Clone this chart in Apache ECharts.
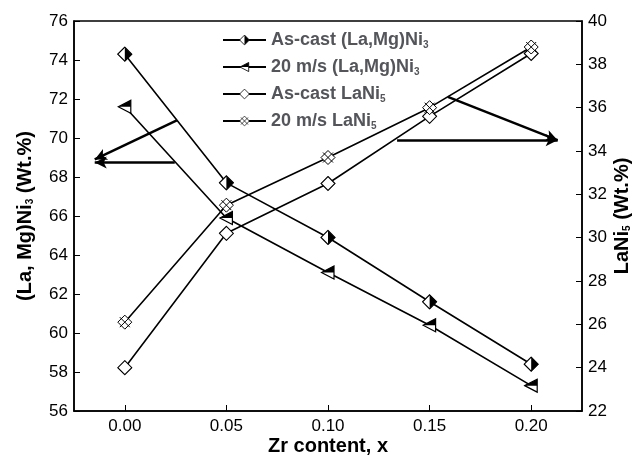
<!DOCTYPE html>
<html>
<head>
    <meta charset="utf-8">
    <title>Zr content vs phase abundance</title>
    <script src="https://cdn.jsdelivr.net/npm/echarts@6/dist/echarts.min.js"></script>
</head>
<body style="margin:0">
<div id="main" style="width:640px;height:459px"></div>
<script type="text/javascript">

    // data
    var zrContent = [0, 0.05, 0.10, 0.15, 0.20];
    var asCastLaMgNi3 = [74.3, 67.7, 64.9, 61.6, 58.4];
    var spun20LaMgNi3 = [71.6, 65.9, 63.1, 60.4, 57.3];
    var asCastLaNi5 = [24.0, 30.2, 32.5, 35.6, 38.5];
    var spun20LaNi5 = [26.1, 31.5, 33.7, 36.0, 38.8];
    var xTicks = [0, 0.05, 0.10, 0.15, 0.20];

    // marker shapes as small svg images (half filled ones need two colours)
    function svgSymbol(body) {
        var s = '<svg xmlns="http://www.w3.org/2000/svg" width="16" height="16" viewBox="0 0 16 16">' + body + '</svg>';
        return 'image://data:image/svg+xml;charset=utf-8,' + encodeURIComponent(s);
    }
    var halfDiamond = svgSymbol(
        '<polygon points="8,1 15,8 8,15 1,8" fill="#fff" stroke="#000" stroke-width="1.2"/>' +
        '<polygon points="8,1 15,8 8,15" fill="#000"/>');
    var halfTriangle = svgSymbol(
        '<polygon points="1.5,8 14,1.5 14,14.5" fill="#fff" stroke="#000" stroke-width="1.2"/>' +
        '<polygon points="1.5,8 14,1.5 14,8" fill="#000"/>');
    var openDiamond = svgSymbol(
        '<polygon points="8,1 15,8 8,15 1,8" fill="#fff" stroke="#000" stroke-width="1.1"/>');
    var crossDiamond = svgSymbol(
        '<polygon points="8,1 15,8 8,15 1,8" fill="#fff" stroke="#000" stroke-width="1"/>' +
        '<path d="M3,3 L13,13 M13,3 L3,13" stroke="#000" stroke-width="1"/>');

    function pairs(ys) {
        return zrContent.map(function (x, i) { return [x, ys[i]]; });
    }

    var font = 'Liberation Sans, Arial, sans-serif';
    var sub = { fontSize: 10, fontWeight: 'bold', fontFamily: font, verticalAlign: 'bottom', padding: [10, 0, 0, 0] };
    var big = { fontSize: 18, fontWeight: 'bold', fontFamily: font, lineHeight: 20 };
    var nameBig = { fontSize: 20, fontWeight: 'bold', fontFamily: font };

    var myChart = echarts.init(document.getElementById('main'));

    var names = ['As-cast (La,Mg)Ni3', '20 m/s (La,Mg)Ni3', 'As-cast LaNi5', '20 m/s LaNi5'];

    function lineSeries(name, ys, axis, sym) {
        return {
            name: name,
            type: 'line',
            yAxisIndex: axis,
            data: pairs(ys),
            symbol: sym,
            symbolSize: 16,
            showAllSymbol: true,
            lineStyle: { color: '#000', width: 1.6 },
            itemStyle: { color: '#000' },
            z: 3
        };
    }

    var arrowStyle = { color: '#000', width: 2.5, type: 'solid' };

    var s0 = lineSeries(names[0], asCastLaMgNi3, 0, halfDiamond);
    s0.markLine = {
        silent: true, animation: false,
        symbol: ['none', 'arrow'], symbolSize: [9, 12],
        label: { show: false }, lineStyle: arrowStyle,
        data: [
            [{ coord: [0.0256, 70.9] }, { coord: [-0.0148, 68.9] }],
            [{ coord: [0.0246, 68.75] }, { coord: [-0.0148, 68.75] }]
        ]
    };
    var s2 = lineSeries(names[2], asCastLaNi5, 1, openDiamond);
    s2.markLine = {
        silent: true, animation: false,
        symbol: ['none', 'arrow'], symbolSize: [9, 12],
        label: { show: false }, lineStyle: arrowStyle,
        data: [
            [{ coord: [0.159, 36.5] }, { coord: [0.213, 34.5] }],
            [{ coord: [0.134, 34.5] }, { coord: [0.213, 34.5] }]
        ]
    };

    var tickFont = { fontSize: 17, fontFamily: font, color: '#000' };

    myChart.setOption({
        animation: false,
        backgroundColor: '#fff',
        grid: {
            left: 74, right: 58, top: 21, bottom: 48,
            outerBoundsMode: 'none', containLabel: false,
            show: true, borderColor: '#000', borderWidth: 1.5
        },
        legend: {
            orient: 'vertical',
            left: 217, top: 26,
            itemWidth: 43, itemHeight: 14, itemGap: 8,
            data: names,
            formatter: function (n) {
                var m = n.match(/^(.*Ni)(\d)$/);
                return '{b|' + m[1] + '}{s|' + m[2] + '}';
            },
            textStyle: { rich: { b: big, s: sub } }
        },
        xAxis: {
            type: 'value',
            min: -0.025, max: 0.225,
            name: 'Zr content, x',
            nameLocation: 'middle', nameGap: 25, nameMoveOverlap: false,
            nameTextStyle: nameBig,
            axisLine: { onZero: false, lineStyle: { color: '#000', width: 1.5 } },
            axisTick: { inside: true, length: 6, customValues: xTicks, lineStyle: { color: '#000' } },
            axisLabel: Object.assign({
                customValues: xTicks, margin: 7,
                formatter: function (v) { return v.toFixed(2); }
            }, tickFont),
            splitLine: { show: false }
        },
        yAxis: [{
            type: 'value', min: 56, max: 76, interval: 2,
            name: '{b|(La, Mg)Ni}{s|3}{b| (Wt.%)}',
            nameLocation: 'middle', nameGap: 39, nameRotate: 90,
            nameTextStyle: { rich: { b: nameBig, s: sub } },
            axisLine: { show: true, onZero: false, lineStyle: { color: '#000', width: 1.5 } },
            axisTick: { inside: true, length: 6, lineStyle: { color: '#000' } },
            axisLabel: Object.assign({ margin: 6 }, tickFont),
            splitLine: { show: false }
        }, {
            type: 'value', min: 22, max: 40, interval: 2,
            name: '{b|LaNi}{s|5}{b| (Wt.%)}',
            nameLocation: 'middle', nameGap: 30, nameRotate: 90, nameMoveOverlap: false,
            nameTextStyle: { rich: { b: nameBig, s: sub } },
            axisLine: { show: true, onZero: false, lineStyle: { color: '#000', width: 1.5 } },
            axisTick: { inside: true, length: 6, lineStyle: { color: '#000' } },
            axisLabel: Object.assign({ margin: 6 }, tickFont),
            splitLine: { show: false }
        }],
        series: [
            s0,
            lineSeries(names[1], spun20LaMgNi3, 0, halfTriangle),
            s2,
            lineSeries(names[3], spun20LaNi5, 1, crossDiamond)
        ]
    });
</script>
</body>
</html>
